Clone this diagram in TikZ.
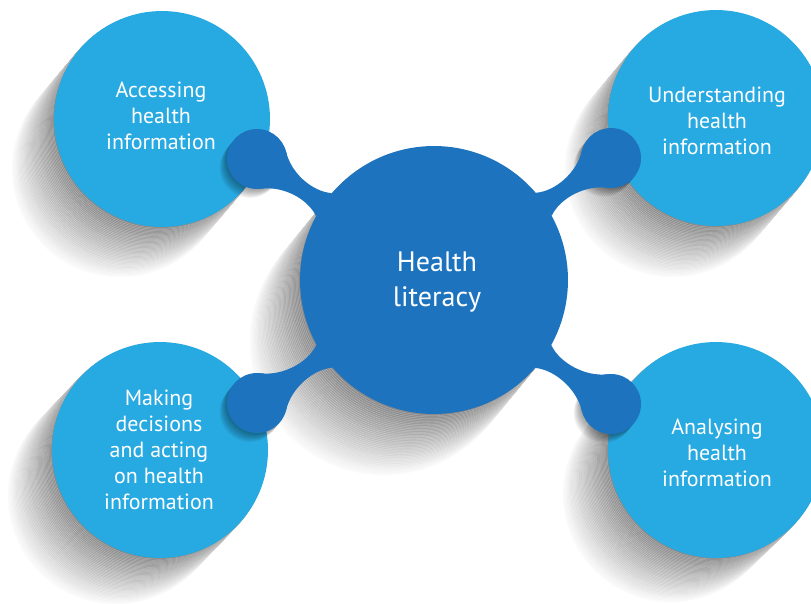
\documentclass[tikz,border=0pt]{standalone}
\usepackage{fontspec}
\setmainfont{PT Sans}
\setsansfont{PT Sans}
\usetikzlibrary{calc}
\definecolor{LitMain}{HTML}{1E73BE}
\definecolor{SubMain}{HTML}{27A9E1}
\tikzset{
  every picture/.append style={font=\sffamily},
  topic/.style={circle, fill=SubMain, minimum size=4.32cm, inner sep=0pt},
  core/.style={circle, fill=LitMain, minimum size=5.36cm, inner sep=0pt},
  hub/.style={circle, fill=LitMain, minimum size=1.2cm, inner sep=0pt},
  ttxt/.style={text=white, align=center, font=\fontsize{12.5}{14.8}\selectfont},
  ctxt/.style={text=white, align=center, font=\fontsize{16}{19.4}\selectfont},
}
% striped shadow behind a disc: centre, radius, total shift x, total shift y
\newcommand\castshadow[4]{%
  \foreach \i in {40,39,...,1}{
    \pgfmathtruncatemacro\s{48-1.14*\i}
    \pgfmathtruncatemacro\e{0.55*\s}
    \fill[black!\s, draw=black!\e, line width=0.15pt]
      ($(#1)+(\i/40*#3,\i/40*#4)$) circle[radius=#2];
  }}
% soft shadow of a small hub
\newcommand\hubshadow[1]{%
  \foreach \i in {1,...,8}{
    \fill[black, opacity=0.05] ($(#1)+(-\i*0.9,\i*1.1)$) circle[radius=30];
  }}
% neck from a hub into the core: hub, direction towards core
\newcommand\neck[2]{%
  \fill[LitMain] ($(#1)+(#2-48:30)$) .. controls +(#2+42:22) and +(#2+150:20)
    .. ($(lit)+(#2+186:134)$) -- ($(lit)+(#2+174:134)$)
    .. controls +(#2+210:20) and +(#2-42:22) .. ($(#1)+(#2+48:30)$) -- cycle;}

\begin{document}
\begin{tikzpicture}[x=0.02cm, y=-0.02cm]
\useasboundingbox (0,0) rectangle (811,603);
\clip (0,0) rectangle (811,603);

% ======================= centres ====================================================
\coordinate (cA) at (162,119);  \coordinate (cB) at (716,118);
\coordinate (cC) at (160,450);  \coordinate (cD) at (716,450);
\coordinate (cL) at (434,280);

% ======================= shadows ====================================================
\castshadow{cA}{108}{-42}{50}
\castshadow{cB}{108}{-43}{51}
\castshadow{cC}{108}{-44}{46}
\castshadow{cD}{108}{-45}{44}
\castshadow{cL}{134}{-50}{61}

% ======================= four topics ================================================
\node[topic] (acc) at (cA) {};
\node[topic] (und) at (cB) {};
\node[topic] (mak) at (cC) {};
\node[topic] (ana) at (cD) {};
\node[ttxt] (accx) at (161,116) {Accessing\\health\\information};
\node[ttxt] (undx) at (717,121) {Understanding\\health\\information};
\node[ttxt] (makx) at (159,450) {Making\\decisions\\and acting\\on health\\information};
\node[ttxt] (anax) at (717,453) {Analysing\\health\\information};

% ======================= hubs and necks =============================================
\coordinate (hA) at (257,159); \coordinate (hB) at (611,158);
\coordinate (hC) at (257,403); \coordinate (hD) at (611,404);
\hubshadow{hA} \hubshadow{hB} \hubshadow{hC} \hubshadow{hD}

\node[core] (lit) at (cL) {};
\node[hub] (hubA) at (hA) {};
\node[hub] (hubB) at (hB) {};
\node[hub] (hubC) at (hC) {};
\node[hub] (hubD) at (hD) {};
\neck{hubA}{34.4}
\neck{hubB}{145.4}
\neck{hubC}{-34.8}
\neck{hubD}{215}

\node[ctxt] (litx) at (437,282) {Health\\literacy};

\end{tikzpicture}
\end{document}
